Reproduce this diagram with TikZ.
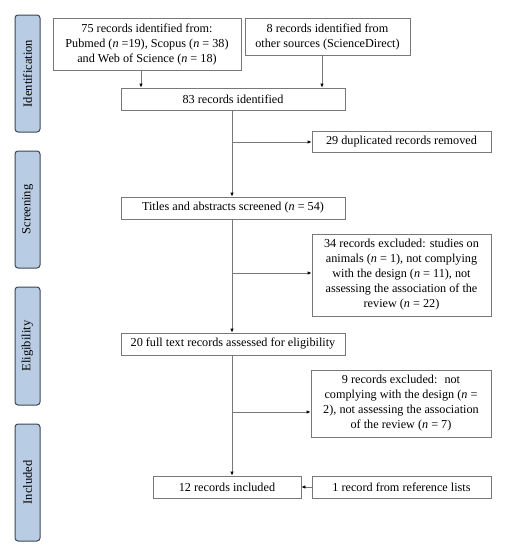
\documentclass[tikz,border=0pt]{standalone}
\usepackage{fontspec}
\setmainfont{Liberation Serif}
\usetikzlibrary{arrows.meta}
\definecolor{boxline}{RGB}{120,120,120}
\definecolor{sidefill}{RGB}{184,204,228}
\definecolor{sideline}{RGB}{60,70,85}
\tikzset{
  flowbox/.style={draw=boxline, line width=0.8pt, fill=white, align=center, inner sep=1pt,
    font=\fontsize{12.2}{15}\selectfont},
  sidelabel/.style={draw=sideline, fill=sidefill, line width=1pt, rounded corners=3pt,
    minimum width=25pt, inner sep=0pt, font=\fontsize{12.5}{13}\selectfont},
  conn/.style={draw=boxline, line width=0.8pt, -{Latex[length=4pt,width=3.5pt,color=black]}},
  plain/.style={draw=boxline, line width=0.8pt}
}
\begin{document}
\begin{tikzpicture}[x=1pt,y=-1pt]
\useasboundingbox (0,0) rectangle (508,550);
% side labels
\node[sidelabel, minimum height=117pt] (sid) at (27.5,73.5) {\rotatebox{90}{Identification}};
\node[sidelabel, minimum height=117pt] (ssc) at (27.5,209.5) {\rotatebox{90}{Screening}};
\node[sidelabel, minimum height=118pt] (sel) at (27.5,346) {\rotatebox{90}{Eligibility}};
\node[sidelabel, minimum height=117pt] (sin) at (27.5,482.5) {\rotatebox{90}{Included}};
% boxes
\node[flowbox, minimum width=188pt, minimum height=52pt] (A) at (147,44)
  {75 records identified from:\\Pubmed (\textit{n} =19), Scopus (\textit{n} = 38)\\and Web of Science (\textit{n} = 18)};
\node[flowbox, minimum width=165pt, minimum height=37pt] (B) at (327.5,36.5)
  {8 records identified from\\other sources (ScienceDirect)};
\node[flowbox, minimum width=224pt, minimum height=22pt] (C) at (233,99) {83 records identified};
\node[flowbox, minimum width=179pt, minimum height=21pt] (D) at (401.5,141.5) {29 duplicated records removed};
\node[flowbox, minimum width=224pt, minimum height=22pt] (E) at (233,208) {Titles and abstracts screened (\textit{n} = 54)};
\node[flowbox, minimum width=179pt, minimum height=82pt] (F) at (401.5,275)
  {34 records excluded: studies on\\animals (\textit{n} = 1), not complying\\with the design (\textit{n} = 11), not\\assessing the association of the\\review (\textit{n} = 22)};
\node[flowbox, minimum width=224pt, minimum height=22pt] (G) at (233,344) {20 full text records assessed for eligibility};
\node[flowbox, minimum width=180pt, minimum height=67pt] (H) at (401,403.5)
  {9 records excluded:~ not\\complying with the design (\textit{n} =\\2), not assessing the association\\of the review (\textit{n} = 7)};
\node[flowbox, minimum width=148pt, minimum height=22pt] (I) at (227,487) {12 records included};
\node[flowbox, minimum width=179pt, minimum height=22pt] (J) at (401.5,487) {1 record from reference lists};
% connectors
\coordinate (a1) at (141,70);
\coordinate (b1) at (322,55);
\draw[conn] (a1) -- (a1 |- C.north);
\draw[conn] (b1) -- (b1 |- C.north);
\coordinate (c1) at (232,110);
\draw[conn] (c1) -- (c1 |- E.north);
\coordinate (bd) at (232,142);
\draw[conn] (bd) -- (bd -| D.west);
\coordinate (e1) at (232,219);
\draw[conn] (e1) -- (e1 |- G.north);
\coordinate (bf) at (232,273);
\draw[conn] (bf) -- (bf -| F.west);
\coordinate (g1) at (232,355);
\draw[conn] (g1) -- (g1 |- I.north);
\coordinate (bh) at (232,412);
\draw[conn] (bh) -- (bh -| H.west);
\draw[conn] (J.west) -- (I.east);
\end{tikzpicture}
\end{document}
